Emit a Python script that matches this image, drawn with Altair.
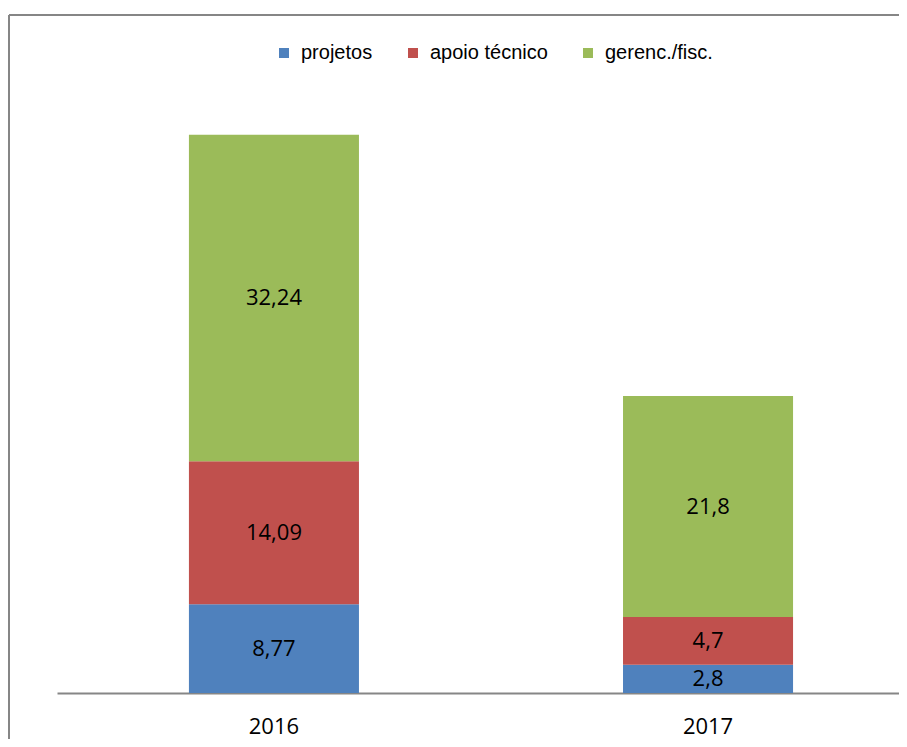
import altair as alt
import pandas as pd

years = ["2016", "2016", "2016", "2017", "2017", "2017"]
series = ["projetos", "apoio técnico", "gerenc./fisc.", "projetos", "apoio técnico", "gerenc./fisc."]
values = [8.77, 14.09, 32.24, 2.8, 4.7, 21.8]
order = [0, 1, 2, 0, 1, 2]

series_names = ["projetos", "apoio técnico", "gerenc./fisc."]
series_colors = ["#4F81BD", "#C0504D", "#9BBB59"]

df = pd.DataFrame({"year": years, "series": series, "value": values, "order": order})

W, H = 842, 608
xscale = alt.Scale(paddingInner=0.6083, paddingOuter=0.274, align=0.5546)

base = alt.Chart(df).transform_stack(
    stack="value", groupby=["year"], as_=["y0", "y1"],
    sort=[alt.SortField("order", order="ascending")]
).transform_calculate(
    mid="(datum.y0 + datum.y1) / 2",
    lab="replace(toString(datum.value), '.', ',')"
)

bars = base.mark_bar(stroke=None).encode(
    x=alt.X("year:N", scale=xscale, title=None,
            axis=alt.Axis(labelAngle=0, ticks=False, domainColor="#868686", domainWidth=2,
                          labelFont="Open Sans", labelFontSize=22, labelColor="#000000",
                          labelPadding=23, grid=False)),
    y=alt.Y("y0:Q", scale=alt.Scale(domain=[0, 60], nice=False), axis=None),
    y2="y1:Q",
    color=alt.Color("series:N",
                    scale=alt.Scale(domain=series_names, range=series_colors),
                    sort=series_names,
                    legend=alt.Legend(title=None, orient="none", legendX=217, legendY=-42,
                                      direction="horizontal", columns=3,
                                      symbolType="square", symbolSize=100, symbolStrokeWidth=0,
                                      labelFont="Liberation Sans", labelFontSize=20,
                                      labelColor="#000000", labelOffset=7, columnPadding=30)),
)

texts = base.mark_text(font="Open Sans", fontSize=22, color="#000000", baseline="middle").encode(
    x=alt.X("year:N", scale=xscale),
    y=alt.Y("mid:Q", scale=alt.Scale(domain=[0, 60], nice=False)),
    text="lab:N",
)

border_top = alt.Chart(df).mark_rule(color="#868686", strokeWidth=2).encode(
    x=alt.value(-48), x2=alt.value(W), y=alt.value(-70)
)
border_left = alt.Chart(df).mark_rule(color="#868686", strokeWidth=2).encode(
    x=alt.value(-48), y=alt.value(-70), y2=alt.value(660)
)

chart = alt.layer(bars, texts, border_top, border_left).properties(
    width=W, height=H,
    autosize=alt.AutoSizeParams(type="none"),
    padding={"left": 49, "top": 77, "right": 0, "bottom": 46},
).configure_view(stroke=None)

chart.save("out.html", embed_options={"renderer": "svg", "actions": False})
